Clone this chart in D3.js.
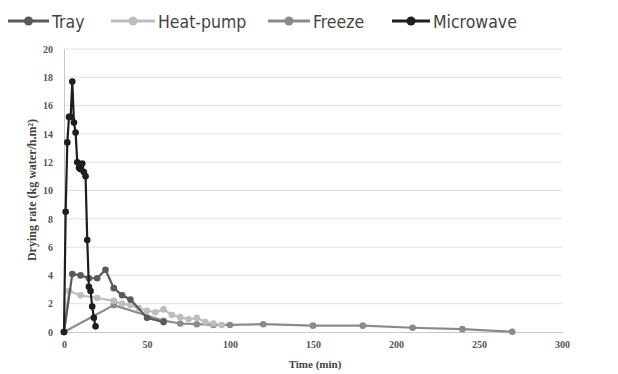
<!DOCTYPE html>
<html><head><meta charset="utf-8">
<script src="https://cdn.jsdelivr.net/npm/d3@7"></script>
<style>body{margin:0;background:#fff;} svg{display:block;}</style>
</head><body>
<script>
const seriesNames = ["Tray","Heat-pump","Freeze","Microwave"];
const seriesColors = ["#5a5a5a","#bdbdbd","#8a8a8a","#1e1e1e"];
const trayTime = [0,5,10,15,20,25,30,35,40,50,60];
const trayRate = [0,4.1,4.0,3.8,3.8,4.4,3.1,2.6,2.3,1.0,0.7];
const heatTime = [0,3,10,20,30,35,40,45,50,55,60,65,70,75,80,85,90,95];
const heatRate = [0,2.9,2.6,2.4,2.2,2.0,1.9,1.7,1.5,1.4,1.6,1.2,1.05,0.9,1.0,0.7,0.6,0.5];
const freezeTime = [0,30,60,70,80,90,100,120,150,180,210,240,270];
const freezeRate = [0,1.9,0.8,0.6,0.55,0.5,0.5,0.55,0.45,0.45,0.3,0.2,0.02];
const microTime = [0,1,2,3,4,5,6,7,8,9,10,11,12,13,14,15,16,17,18,19];
const microRate = [0,8.5,13.4,15.2,15.2,17.7,14.8,14.1,12.0,11.6,11.5,11.9,11.3,11.0,6.5,3.2,2.9,1.8,1.0,0.4];
const xTicks = [0,50,100,150,200,250,300];
const yTicks = [0,2,4,6,8,10,12,14,16,18,20];

const W=618,H=374;
const svg=d3.select("body").append("svg").attr("width",W).attr("height",H);
const x=d3.scaleLinear().domain([0,300]).range([64,562]);
const y=d3.scaleLinear().domain([0,20]).range([332,49]);

svg.append("g").selectAll("line").data(yTicks.filter(d=>d>0)).join("line")
 .attr("x1",x(0)).attr("x2",x(300)).attr("y1",d=>y(d)).attr("y2",d=>y(d))
 .attr("stroke","#e0e0e0").attr("stroke-width",1);
const xa=svg.append("g").attr("transform",`translate(0,${y(0)})`)
 .call(d3.axisBottom(x).tickValues(xTicks).tickSize(0).tickPadding(9));
xa.select(".domain").attr("stroke","#c8c8c8");
const ya=svg.append("g").attr("transform",`translate(${x(0)},0)`)
 .call(d3.axisLeft(y).tickValues(yTicks).tickSize(0).tickPadding(11));
ya.select(".domain").attr("stroke","#c8c8c8");
svg.selectAll(".tick text").attr("font-family","Liberation Serif, serif").attr("font-size",10).attr("font-weight","bold").attr("fill","#555");

svg.append("text").attr("x",315).attr("y",368).attr("text-anchor","middle")
 .attr("font-family","Liberation Serif, serif").attr("font-weight","bold").attr("font-size",11).attr("fill","#444").text("Time (min)");
svg.append("text").attr("transform","translate(36,190) rotate(-90)").attr("text-anchor","middle")
 .attr("font-family","Liberation Serif, serif").attr("font-weight","bold").attr("font-size",12).attr("fill","#444")
 .text("Drying rate (kg water/h.m²)");

const data=[
 trayTime.map((t,i)=>[t,trayRate[i]]),
 heatTime.map((t,i)=>[t,heatRate[i]]),
 freezeTime.map((t,i)=>[t,freezeRate[i]]),
 microTime.map((t,i)=>[t,microRate[i]])
];
const line=d3.line().x(d=>x(d[0])).y(d=>y(d[1]));
const order=[2,1,0,3];
order.forEach(k=>{
  const g=svg.append("g");
  g.append("path").datum(data[k]).attr("d",line).attr("fill","none")
   .attr("stroke",seriesColors[k]).attr("stroke-width",2.2);
  g.selectAll("circle").data(data[k]).join("circle")
   .attr("cx",d=>x(d[0])).attr("cy",d=>y(d[1])).attr("r",3.3).attr("fill",seriesColors[k]);
});

const legX=[8,111,268,392];
const legTextX=[52,158,313,433];
seriesNames.forEach((n,i)=>{
  const g=svg.append("g").attr("transform",`translate(0,21)`);
  const x2=legTextX[i]-3;
  g.append("line").attr("x1",legX[i]).attr("x2",x2).attr("stroke",seriesColors[i]).attr("stroke-width",3);
  g.append("circle").attr("cx",(legX[i]+x2)/2).attr("r",4.5).attr("fill",seriesColors[i]);
  g.append("text").attr("x",legTextX[i]).attr("y",6.5).attr("font-family","DejaVu Sans Condensed, DejaVu Sans, sans-serif")
   .attr("font-size",17.5).attr("fill","#444").text(n);
});
</script>
</body></html>
